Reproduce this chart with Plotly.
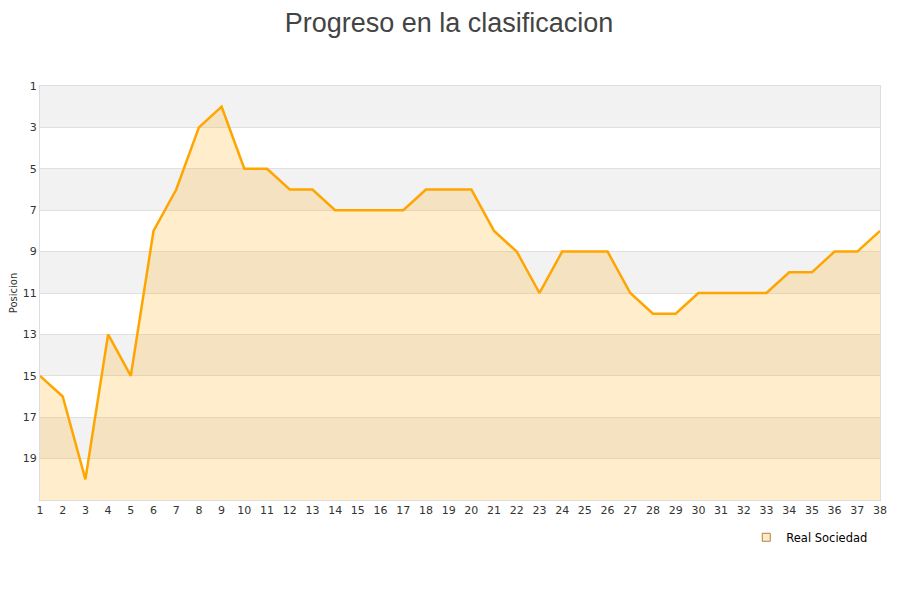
import plotly.graph_objects as go

jornadas = list(range(1, 39))
posiciones = [15, 16, 20, 13, 15, 8, 6, 3, 2, 5, 5, 6, 6, 7, 7, 7, 7, 6, 6, 6,
              8, 9, 11, 9, 9, 9, 11, 12, 12, 11, 11, 11, 11, 10, 10, 9, 9, 8]
equipo = "Real Sociedad"
y_ticks = list(range(1, 20, 2))
y_bottom = 21

fig = go.Figure()

# baseline at the bottom of the axis
fig.add_trace(go.Scatter(x=jornadas, y=[y_bottom] * len(jornadas), mode="lines",
                         line=dict(width=0), showlegend=False, hoverinfo="skip"))
fig.add_trace(go.Scatter(x=jornadas, y=posiciones, mode="lines", name=equipo,
                         fill="tonexty", fillcolor="rgba(255,165,0,0.2)",
                         line=dict(color="#FFA500", width=2.5), showlegend=False))
# legend entry with square symbol
fig.add_trace(go.Scatter(x=[None], y=[None], mode="markers", name=equipo,
                         marker=dict(symbol="square", size=8, color="#FFEBC8",
                                     line=dict(color="#B08040", width=1))))

# alternating bands
for i, t in enumerate(y_ticks):
    if i % 2 == 0:
        fig.add_shape(type="rect", xref="paper", x0=0, x1=1, yref="y", y0=t, y1=t + 2,
                      fillcolor="#f2f2f2", line=dict(width=0), layer="below")

fig.update_layout(
    width=900, height=600,
    paper_bgcolor="white", plot_bgcolor="white",
    margin=dict(l=32, r=28, t=78, b=108),
    title=dict(text="Progreso en la clasificacion", x=0.49, xanchor="center",
               y=0.975, yanchor="middle",
               font=dict(family="Liberation Sans", size=27, color="#444")),
    font=dict(family="DejaVu Sans", size=11, color="#333"),
    showlegend=True,
    legend=dict(orientation="h", x=0.992, xanchor="right", y=-0.055, yanchor="top",
                font=dict(size=11.5, color="#000"), bgcolor="rgba(0,0,0,0)"),
    xaxis=dict(range=[1, 38], tickmode="array", tickvals=jornadas, showgrid=False,
               zeroline=False, showline=True, linecolor="#ddd", linewidth=1, mirror=True,
               ticks="", tickfont=dict(size=11, color="#333")),
    yaxis=dict(range=[y_bottom, 1], tickmode="array", tickvals=y_ticks,
               showgrid=True, gridcolor="#e0e0e0", gridwidth=1, zeroline=False,
               showline=True, linecolor="#ddd", linewidth=1, mirror=True,
               ticks="", tickfont=dict(size=11, color="#333"),
               title=dict(text="Posicion", font=dict(size=10, color="#333"), standoff=10),
               automargin=False),
)

fig.write_html("out.html")
